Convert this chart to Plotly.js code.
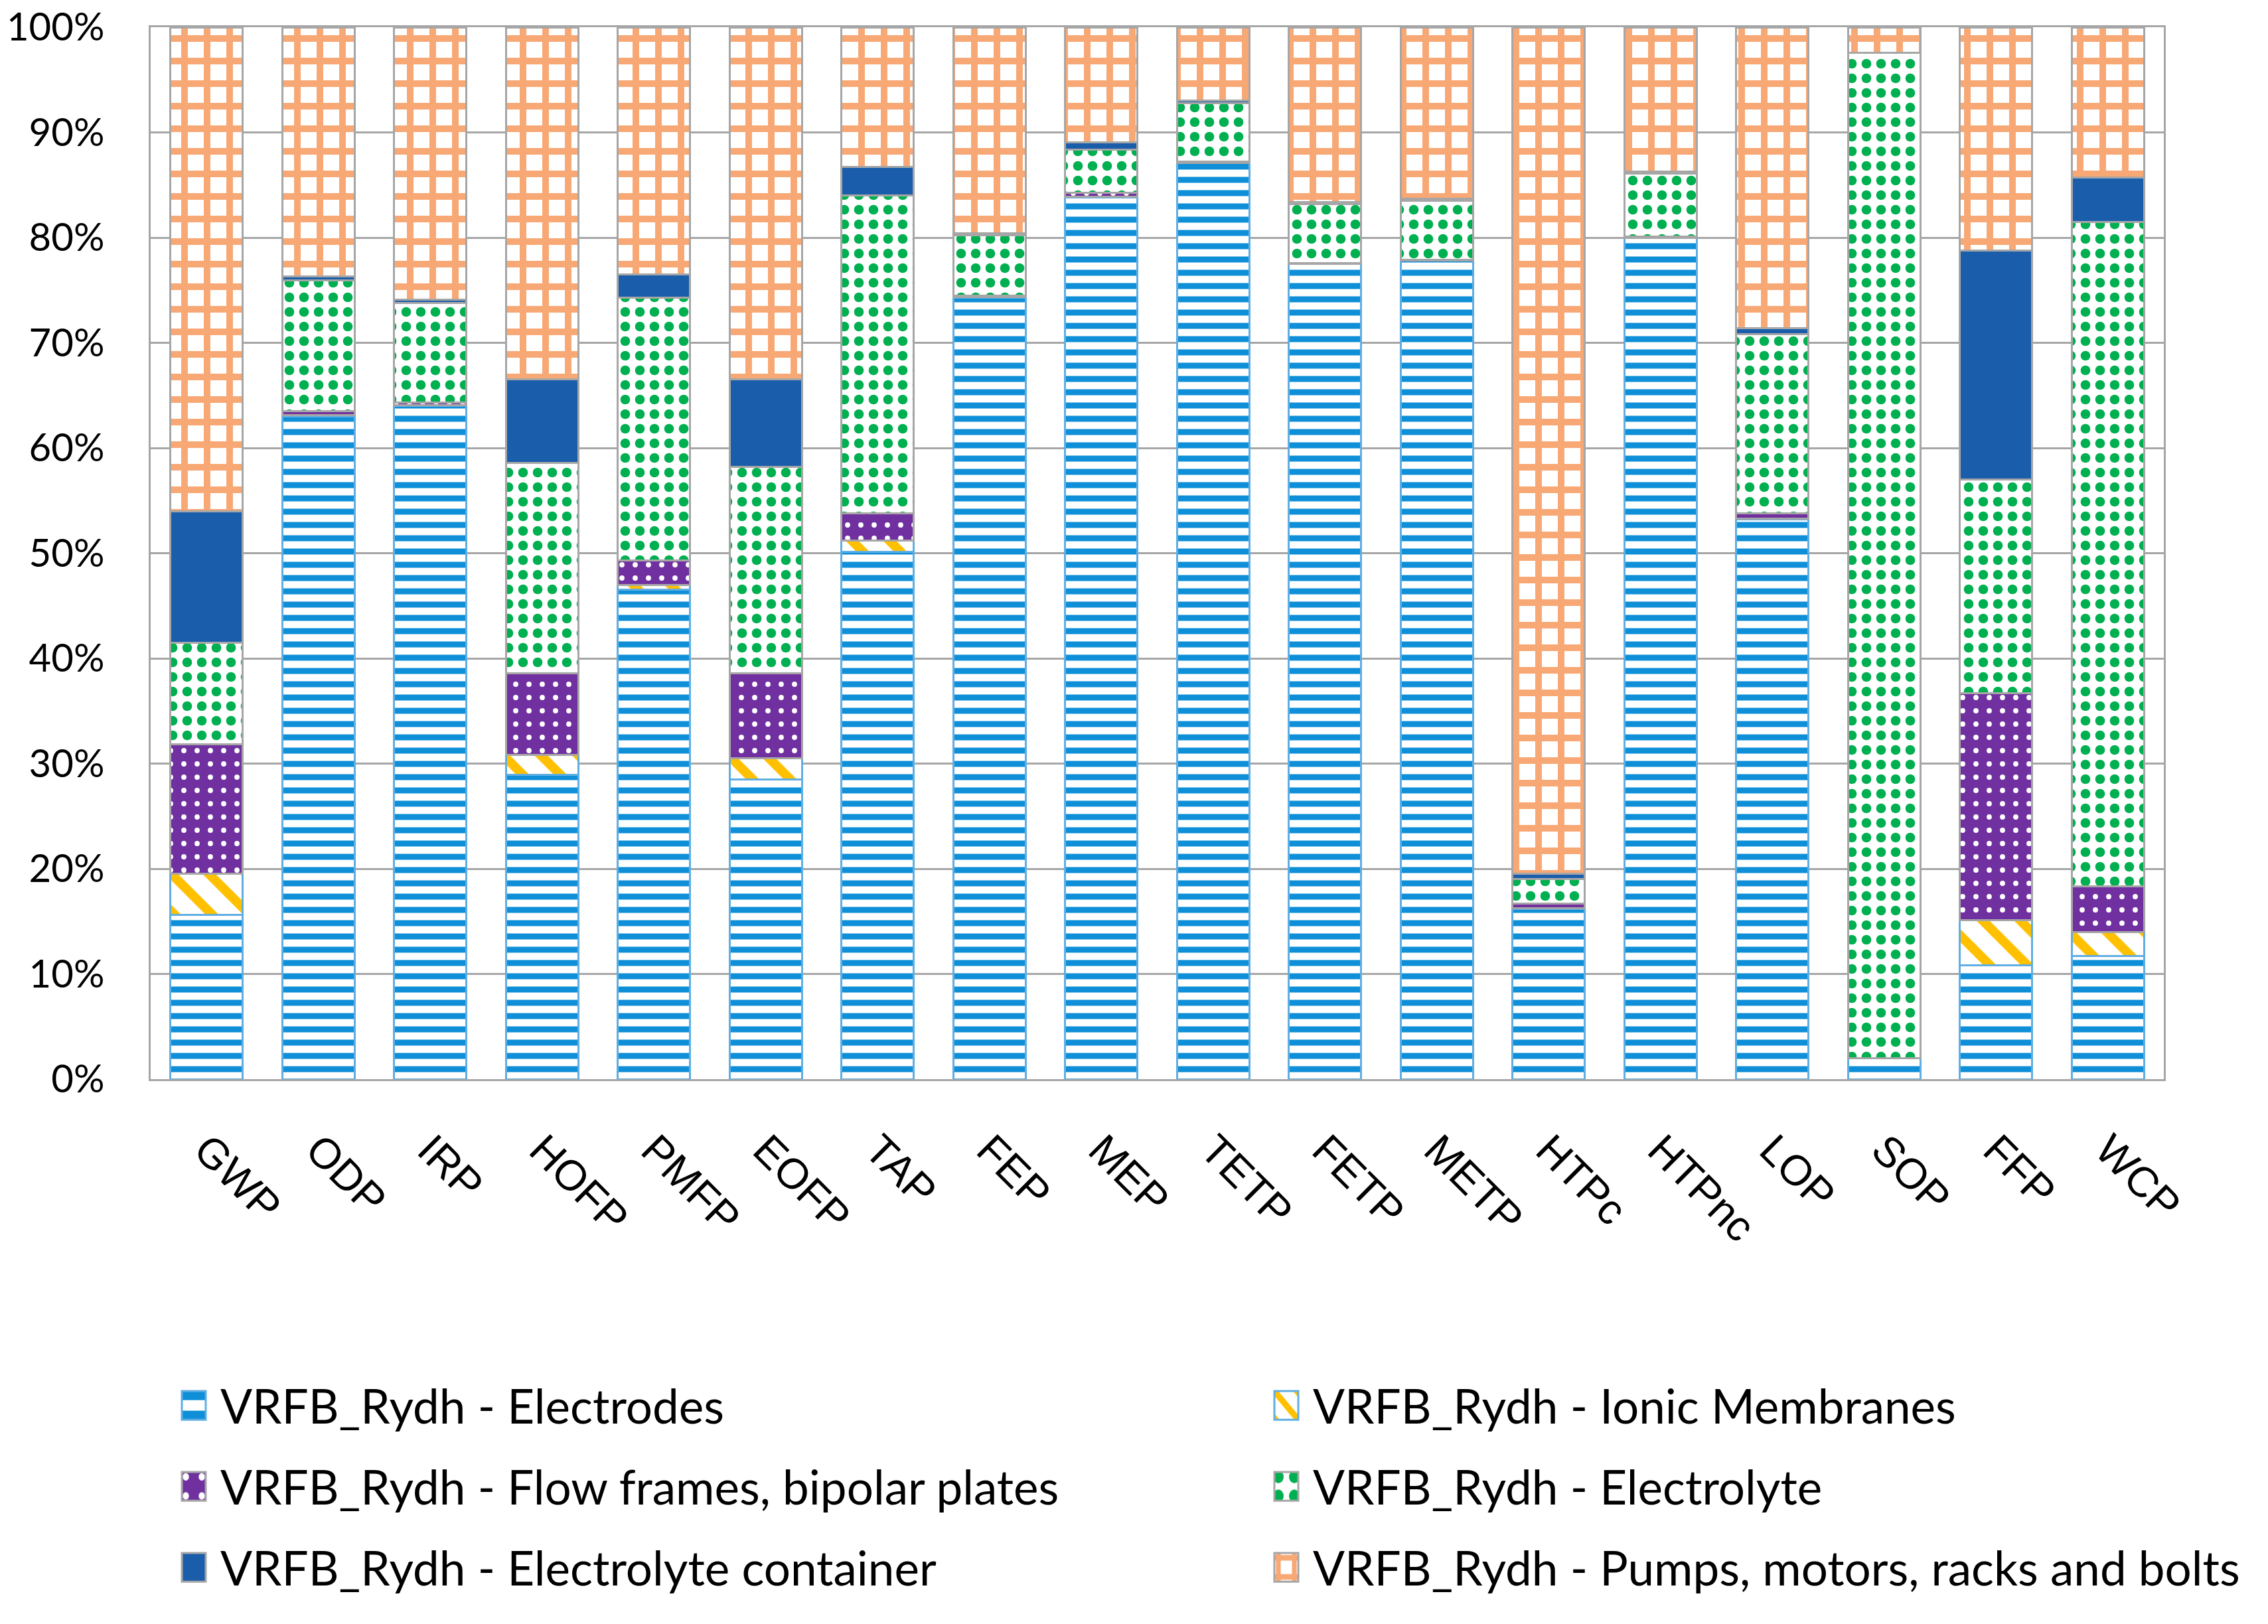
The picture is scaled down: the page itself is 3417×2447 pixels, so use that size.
<!DOCTYPE html>
<html>
<head>
<meta charset="utf-8">
<script src="https://cdn.plot.ly/plotly-3.0.1.min.js"></script>
<style>html,body{margin:0;padding:0;background:#fff;}#chart{width:3417px;height:2447px;}</style>
</head>
<body>
<div id="chart"></div>
<script>
var categories = ['GWP','ODP','IRP','HOFP','PMFP','EOFP','TAP','FEP','MEP','TETP','FETP','METP','HTPc','HTPnc','LOP','SOP','FFP','WCP'];

var electrodes      = [15.6, 63.0, 64.0, 28.9, 46.5, 28.5, 50.1, 74.3, 83.8, 87.1, 77.5, 77.8, 16.2, 80.0, 53.2,  2.0, 10.8, 11.7];
var ionicMembranes  = [ 3.9,  0.1,  0.1,  1.9,  0.5,  2.0,  1.1, 0.05, 0.05,  0.0,  0.0,  0.0, 0.05,  0.0,  0.1,  0.0,  4.3,  2.3];
var flowFrames      = [12.3,  0.4,  0.2,  7.8,  2.3,  8.1,  2.6, 0.15,  0.4,  0.1,  0.1,  0.1, 0.45,  0.1,  0.5,  0.0, 21.6,  4.3];
var electrolyte     = [ 9.7, 12.4,  9.5, 20.0, 25.0, 19.6, 30.2,  5.7,  4.1,  5.6,  5.6,  5.6,  2.3,  6.0, 17.0, 95.6, 20.3, 63.2];
var container       = [12.5,  0.4,  0.3,  7.9,  2.2,  8.3,  2.7,  0.2,  0.7,  0.2,  0.2,  0.2,  0.5,  0.2,  0.6,  0.0, 21.8,  4.2];
var pumps           = [46.0, 23.7, 25.9, 33.5, 23.5, 33.5, 13.3, 19.6, 10.95, 7.0, 16.6, 16.3, 80.5, 13.7, 28.6,  2.4, 21.2, 14.3];

var seriesNames = [
  'VRFB_Rydh - Electrodes',
  'VRFB_Rydh - Ionic Membranes',
  'VRFB_Rydh - Flow frames, bipolar plates',
  'VRFB_Rydh - Electrolyte',
  'VRFB_Rydh - Electrolyte container',
  'VRFB_Rydh - Pumps, motors, racks and bolts'
];
var yTickVals = [0,10,20,30,40,50,60,70,80,90,100];
var yTickText = ['0%','10%','20%','30%','40%','50%','60%','70%','80%','90%','100%'];

var gray = '#A6A6A6';
var lightBlue = '#5FAEE3';

function bar(name, vals, color, lineColor, pattern, legendId) {
  var m = {color: color, line: {color: lineColor, width: 3}};
  if (pattern) m.pattern = pattern;
  return {type: 'bar', name: name, x: categories, y: vals, marker: m, legend: legendId, hoverinfo: 'x+y+name'};
}

var traces = [
  bar(seriesNames[0], electrodes, '#0E8FD8', lightBlue,
      {shape: '-', fgcolor: '#0E8FD8', bgcolor: '#ffffff', size: 20, solidity: 0.45, fillmode: 'replace'}, 'legend'),
  bar(seriesNames[1], ionicMembranes, '#FFC000', lightBlue,
      {shape: '\\', fgcolor: '#FFC000', bgcolor: '#ffffff', size: 40, solidity: 0.35, fillmode: 'replace'}, 'legend2'),
  bar(seriesNames[2], flowFrames, '#7030A0', gray,
      {shape: '.', fgcolor: '#ffffff', bgcolor: '#7030A0', size: 20, solidity: 0.12, fillmode: 'replace'}, 'legend3'),
  bar(seriesNames[3], electrolyte, '#00B050', gray,
      {shape: '.', fgcolor: '#00B050', bgcolor: '#ffffff', size: 22, solidity: 0.35, fillmode: 'replace'}, 'legend4'),
  bar(seriesNames[4], container, '#1A5EAB', gray, null, 'legend5'),
  bar(seriesNames[5], pumps, '#F8A874', gray,
      {shape: '+', fgcolor: '#F8A874', bgcolor: '#ffffff', size: 34, solidity: 0.5, fillmode: 'replace'}, 'legend6')
];

function legendAt(xc, yc) {
  return {
    orientation: 'h', xref: 'container', yref: 'container',
    x: xc, y: yc, xanchor: 'left', yanchor: 'middle',
    itemwidth: 70,
    font: {family: 'Lato, sans-serif', size: 71, color: '#000000'},
    bgcolor: 'rgba(0,0,0,0)', itemclick: false, itemdoubleclick: false
  };
}
var colL = 252 / 3417, colR = 1898 / 3417;
var row1 = 1 - 2118 / 2447, row2 = 1 - 2240 / 2447, row3 = 1 - 2362 / 2447;

var layout = {
  width: 3417, height: 2447,
  paper_bgcolor: '#ffffff', plot_bgcolor: '#ffffff',
  margin: {l: 227, r: 157, t: 41, b: 821, pad: 0},
  barmode: 'stack', barnorm: 'percent', bargap: 0.353,
  showlegend: true,
  xaxis: {
    type: 'category', tickangle: 45,
    tickfont: {family: 'Liberation Sans, Arial, sans-serif', size: 64, color: '#000000'},
    showline: true, linecolor: gray, linewidth: 3, mirror: true,
    ticks: '', showgrid: false, ticklabelstandoff: 40
  },
  yaxis: {
    range: [0, 100], tickvals: yTickVals, ticktext: yTickText,
    tickfont: {family: 'Lato, sans-serif', size: 58, color: '#000000'},
    showline: true, linecolor: gray, linewidth: 3, mirror: true,
    showgrid: true, gridcolor: gray, gridwidth: 3, zeroline: false,
    ticks: '', ticklabelstandoff: 55, fixedrange: true
  },
  legend: legendAt(colL, row1),
  legend2: legendAt(colR, row1),
  legend3: legendAt(colL, row2),
  legend4: legendAt(colR, row2),
  legend5: legendAt(colL, row3),
  legend6: legendAt(colR, row3)
};

Plotly.newPlot('chart', traces, layout, {displayModeBar: false, staticPlot: true}).then(function (gd) {
  // enlarge the library-drawn legend swatches (keep the library's own offset)
  var paths = gd.querySelectorAll('.legendpoints path');
  paths.forEach(function (p) {
    var t = p.getAttribute('transform') || '';
    p.setAttribute('transform', t + ' scale(3.0,3.6)');
    p.style.vectorEffect = 'non-scaling-stroke';
    p.style.strokeWidth = '3px';
  });
});
</script>
</body>
</html>
